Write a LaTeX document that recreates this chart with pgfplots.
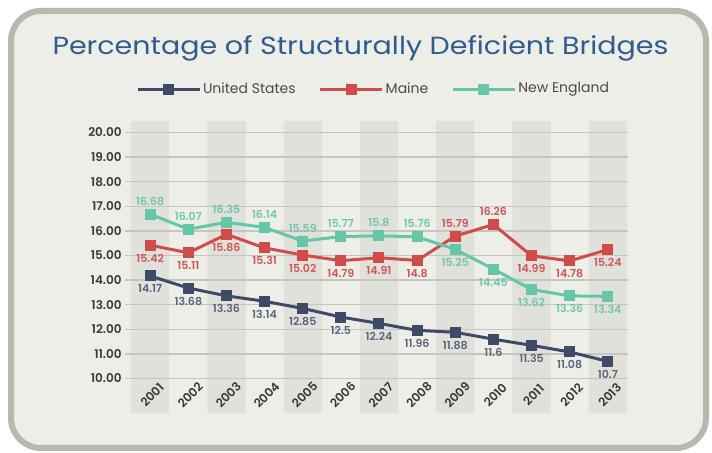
\documentclass[border=0pt]{standalone}
\usepackage{pgfplots}
\pgfplotsset{compat=1.18}
\usepackage{pgfplotstable}
\usepackage{fontspec}
\setmainfont{Poppins}[BoldFont={Poppins SemiBold}]
\definecolor{boxfill}{HTML}{EEEEE9}
\definecolor{boxline}{HTML}{B8B8AE}
\definecolor{band}{HTML}{E1E1DB}
\definecolor{gridc}{HTML}{C6C6BE}
\definecolor{titlec}{HTML}{2F5C8E}
\definecolor{usc}{HTML}{3E4A68}
\definecolor{mec}{HTML}{D14B4B}
\definecolor{nec}{HTML}{66C7A8}
\definecolor{uslab}{HTML}{5A6479}
\definecolor{melab}{HTML}{CF5555}
\definecolor{nelab}{HTML}{72C6AA}
\definecolor{tickc}{HTML}{383838}
\definecolor{legc}{HTML}{4A4A4A}

\pgfplotstableread{
x y p
2001 14.17 -1
2002 13.68 -1
2003 13.36 -1
2004 13.14 -1
2005 12.85 -1
2006 12.5 -1
2007 12.24 -1
2008 11.96 -1
2009 11.88 -1
2010 11.6 -1
2011 11.35 -1
2012 11.08 -1
2013 10.7 -1
}\us
\pgfplotstableread{
x y p
2001 15.42 -1
2002 15.11 -1
2003 15.86 -1
2004 15.31 -1
2005 15.02 -1
2006 14.79 -1
2007 14.91 -1
2008 14.8 -1
2009 15.79 1
2010 16.26 1
2011 14.99 -1
2012 14.78 -1
2013 15.24 -1
}\me
\pgfplotstableread{
x y p
2001 16.68 1
2002 16.07 1
2003 16.35 1
2004 16.14 1
2005 15.59 1
2006 15.77 1
2007 15.8 1
2008 15.76 1
2009 15.25 -1
2010 14.45 -1
2011 13.62 -1
2012 13.36 -1
2013 13.34 -1
}\ne
\pgfplotstableread{
x y
2001 30
2003 30
2005 30
2007 30
2009 30
2011 30
2013 30
}\bands

\pgfplotsset{
  frame/.style={
    at={(62.5pt,20pt)}, anchor=south west,
    scale only axis, width=251.5pt, height=145.9pt,
    xmin=2000.34, xmax=2013.53, ymin=8.60, ymax=20.46,
  }
}

\begin{document}
\begin{tikzpicture}[x=1pt,y=1pt]
\fill[white] (0,0) rectangle (356,226.5);
\draw[boxline, line width=3pt, fill=boxfill, rounded corners=15pt] (5.5,2.5) rectangle (353,221);
\node[anchor=base, text=titlec, font=\fontsize{12.4}{14}\selectfont] at (180.25,199) {\scalebox{1.15}[1]{Percentage of Structurally Deficient Bridges}};
% bands
\begin{axis}[frame, hide axis]
\addplot[ybar, bar width=1, fill=band, draw=none] table[x=x,y=y]{\bands};
\end{axis}
\begin{axis}[
  frame,
  axis line style={draw=none},
  tick style={draw=none},
  ymajorgrids, grid style={gridc, line width=0.7pt},
  ytick={10,11,...,20},
  yticklabels={10.00,11.00,12.00,13.00,14.00,15.00,16.00,17.00,18.00,19.00,20.00},
  xtick={2001,2002,...,2013},
  xticklabels={2001,2002,2003,2004,2005,2006,2007,2008,2009,2010,2011,2012,2013},
  ticklabel style={font=\fontsize{6}{7}\selectfont\bfseries, text=tickc},
  yticklabel style={inner sep=1.5pt},
  xticklabel style={yshift=9pt, xshift=1pt, rotate=45, anchor=center},
  /pgf/number format/assume math mode=true,
  legend columns=3,
  legend style={at={(0.5,1)}, anchor=center, yshift=16pt, xshift=-1pt,
    draw=none, fill=none, font=\fontsize{7}{8}\selectfont, text=legc,
    /tikz/every odd column/.append style={column sep=-1pt},
    /tikz/every even column/.append style={column sep=9.5pt}},
  legend image code/.code={\draw[mark repeat=2,mark phase=2,#1] plot coordinates {(0pt,0pt) (15.5pt,0pt) (31pt,0pt)};},
  every node near coord/.append style={anchor=center, font=\fontsize{5.5}{6}\selectfont\bfseries},
]
\addplot[usc, line width=1.5pt, mark=square*, mark size=2pt] table[x=x,y=y]{\us};
\addlegendentry{United States}
\addplot[mec, line width=1.5pt, mark=square*, mark size=2pt] table[x=x,y=y]{\me};
\addlegendentry{Maine}
\addplot[nec, line width=1.5pt, mark=square*, mark size=2pt] table[x=x,y=y]{\ne};
\addlegendentry{New England}

\addplot[forget plot, draw=none, mark=none, nodes near coords, point meta=explicit,
  visualization depends on={\thisrow{p}\as\lp},
  every node near coord/.append style={yshift=\lp*6.5pt, text=uslab}] table[x=x,y=y,meta=y]{\us};
\addplot[forget plot, draw=none, mark=none, nodes near coords, point meta=explicit,
  visualization depends on={\thisrow{p}\as\lp},
  every node near coord/.append style={yshift=\lp*6.5pt, text=melab}] table[x=x,y=y,meta=y]{\me};
\addplot[forget plot, draw=none, mark=none, nodes near coords, point meta=explicit,
  visualization depends on={\thisrow{p}\as\lp},
  every node near coord/.append style={yshift=\lp*6.5pt, text=nelab}] table[x=x,y=y,meta=y]{\ne};
\end{axis}
\end{tikzpicture}
\end{document}
